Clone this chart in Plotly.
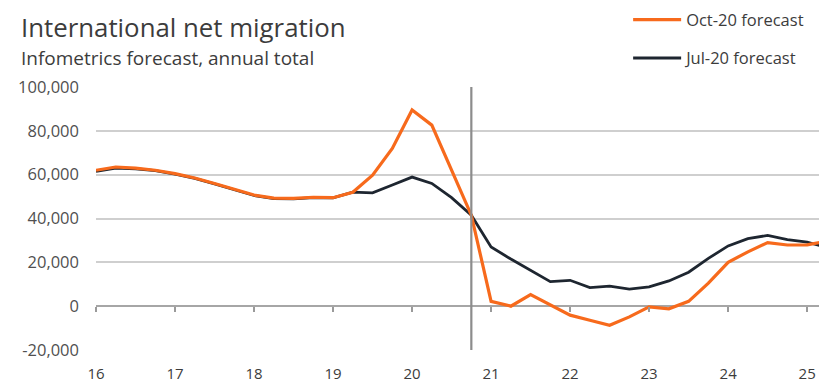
import plotly.graph_objects as go

# Quarterly series, x in fractional years (16 = 2016 Q1)
quarters = [16 + 0.25 * i for i in range(38)]

oct20_forecast = [
    62000, 63500, 63000, 62000, 60500, 58500, 56000, 53500,
    50700, 49300, 49200, 49700, 49500, 52000, 59800, 72000,
    89500, 82600, 62500, 41500, 2200, 0, 5300, 800,
    -4100, -6400, -8700, -4900, -300, -1200, 2200, 10500,
    20000, 24800, 29000, 27900, 28000, 29600,
]

jul20_forecast = [
    61500, 63000, 62700, 61800, 60300, 58300, 55800, 53300,
    50500, 49100, 49000, 49500, 49400, 52000, 51700, 55300,
    58900, 56000, 49500, 41500, 27000, 21500, 16500, 11200,
    11800, 8500, 9100, 7800, 8800, 11500, 15500, 21800,
    27500, 30800, 32300, 30400, 29200, 26800,
]

year_ticks = [16, 17, 18, 19, 20, 21, 22, 23, 24, 25]
year_labels = ["16", "17", "18", "19", "20", "21", "22", "23", "24", "25"]
y_ticks = [-20000, 0, 20000, 40000, 60000, 80000, 100000]
y_labels = ["-20,000", "0", "20,000", "40,000", "60,000", "80,000", "100,000"]

forecast_start = 20.75

FONT = "Open Sans"
TEXT = "#505050"
DARK = "#3c3c3c"

fig = go.Figure()

fig.add_trace(go.Scatter(
    x=quarters, y=jul20_forecast, mode="lines", name="Jul-20 forecast",
    line=dict(color="#1e2630", width=2.8), legendgroup="b", legendrank=2,
))
fig.add_trace(go.Scatter(
    x=quarters, y=oct20_forecast, mode="lines", name="Oct-20 forecast",
    line=dict(color="#f76a1c", width=3.2), legendgroup="a", legendrank=1,
))

# tick marks along the zero line
fig.add_trace(go.Scatter(x=[quarters[0]], y=[None], xaxis="x2", showlegend=False,
                         hoverinfo="skip"))

fig.add_shape(type="line", xref="x", yref="y", x0=forecast_start, x1=forecast_start,
              y0=y_ticks[0], y1=y_ticks[-1], line=dict(color="#8c8c8c", width=2.2),
              layer="above")

fig.update_layout(
    width=819, height=385,
    margin=dict(l=96, r=0, t=87, b=35, autoexpand=False),
    paper_bgcolor="white", plot_bgcolor="white",
    font=dict(family=FONT, color=TEXT, size=13),
    showlegend=True,
    legend=dict(
        x=0.736, y=1.322, xanchor="left", yanchor="top",
        font=dict(family=FONT, size=16.5, color=DARK),
        tracegroupgap=14, itemwidth=48, bgcolor="rgba(0,0,0,0)",
        traceorder="grouped",
    ),
    xaxis=dict(
        range=[16, 25.15], tickmode="array", tickvals=year_ticks, ticktext=year_labels,
        showgrid=False, zeroline=False, showline=False, ticks="",
        tickfont=dict(family=FONT, size=15, color=DARK),
        ticklabelstandoff=13, automargin=False,
    ),
    xaxis2=dict(
        overlaying="x", matches="x", anchor="free", position=(0 - (-20000)) / 120000,
        side="bottom", tickmode="array", tickvals=year_ticks, showticklabels=False,
        ticks="outside", ticklen=5, tickwidth=1.5, tickcolor="#9a9a9a",
        showline=False, showgrid=False, zeroline=False, automargin=False,
    ),
    yaxis=dict(
        range=[-20000, 100000], tickmode="array", tickvals=y_ticks, ticktext=y_labels,
        showgrid=True, gridcolor="#cfcfcf", gridwidth=2,
        zeroline=True, zerolinecolor="#a6a6a6", zerolinewidth=2,
        showline=False, ticks="", ticklabelstandoff=16, automargin=False,
        tickfont=dict(family=FONT, size=16.5, color=TEXT),
    ),
    annotations=[
        dict(text="International net migration", xref="paper", yref="paper",
             x=-0.1065, y=1.228, xanchor="left", yanchor="middle", showarrow=False,
             font=dict(family=FONT, size=25.8, color=DARK)),
        dict(text="Infometrics forecast, annual total", xref="paper", yref="paper",
             x=-0.1065, y=1.11, xanchor="left", yanchor="middle", showarrow=False,
             font=dict(family=FONT, size=19, color=DARK)),
    ],
)

fig.write_html("out.html")
